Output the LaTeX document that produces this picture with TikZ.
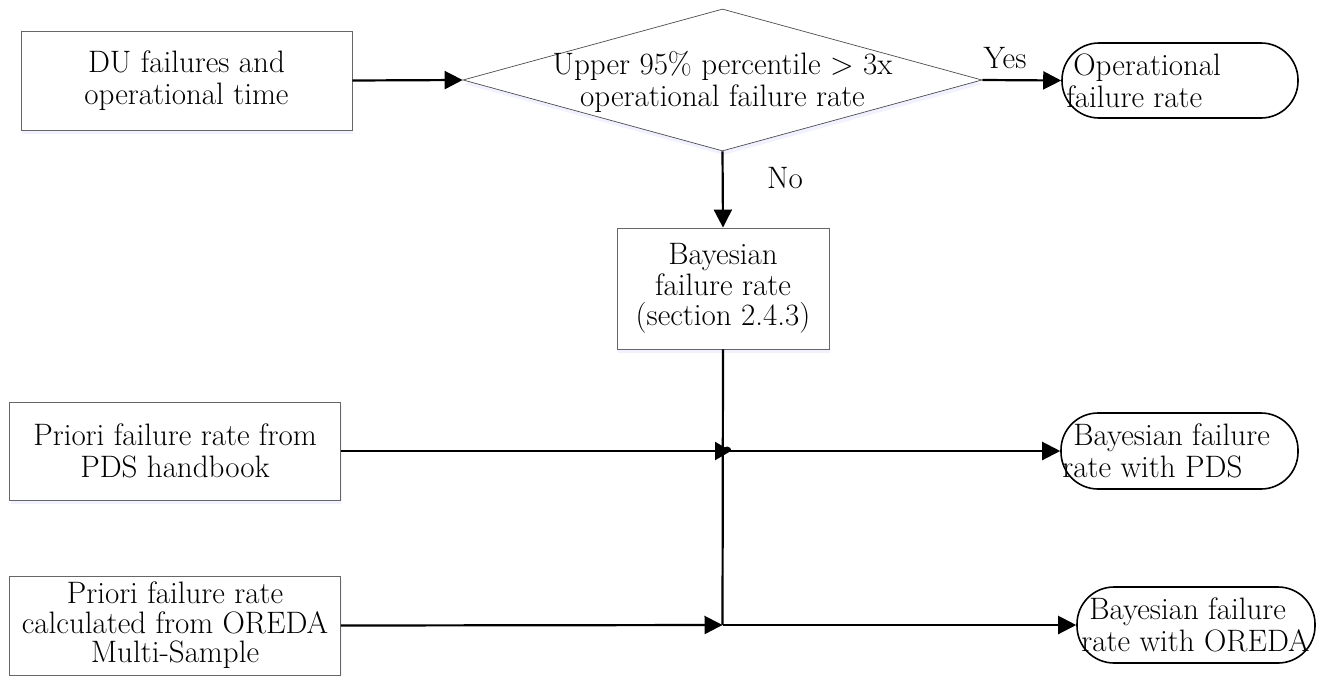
\documentclass[tikz,border=0pt]{standalone}
\usetikzlibrary{arrows.meta,shapes.geometric,shadows}
\begin{document}
\begin{tikzpicture}[x=1pt,y=-1pt,
  txt/.style={font=\fontsize{31}{32}\selectfont, align=center, inner sep=0pt},
  procbox/.style={draw=black!60, line width=0.9pt, fill=white,
    drop shadow={fill=blue!8, opacity=0.7, shadow xshift=1pt, shadow yshift=-4pt},
    font=\fontsize{31}{32}\selectfont, align=center, inner sep=0pt},
  decision/.style={diamond, draw=black!70, line width=0.7pt, fill=white, inner sep=0pt,
    drop shadow={fill=blue!8, opacity=0.7, shadow xshift=1pt, shadow yshift=-4pt}},
  terminal/.style={draw=black, line width=1.6pt, rounded corners=37pt, fill=white, inner sep=0pt},
  conn/.style={line width=2.2pt, draw=black},
  arr/.style={conn, -{Triangle[length=18pt,width=18pt]}},
]
\useasboundingbox (0,0) rectangle (1319,675);

% input boxes
\node[procbox, minimum width=331pt, minimum height=99pt] (du) at (186.5,80.5)
  {DU failures and\\operational time};
\node[procbox, minimum width=331pt, minimum height=98pt] (pds) at (175,451)
  {Priori failure rate from\\PDS handbook};
\node[procbox, minimum width=331pt, minimum height=99pt, font=\fontsize{31}{29.5}\selectfont] (ore) at (175,625.5)
  {Priori failure rate\\calculated from OREDA\\Multi-Sample};

% decision
\node[decision, minimum width=519pt, minimum height=142pt] (dec) at (722.5,80) {};
\node[txt] (dect) at (722.5,82) {Upper 95\% percentile > 3x\\operational failure rate};

% Bayesian box
\node[procbox, minimum width=212pt, minimum height=121pt, font=\fontsize{31}{30.5}\selectfont] (bay) at (723,288.5)
  {Bayesian\\failure rate\\(section 2.4.3)};

% terminals
\node[terminal, minimum width=236pt, minimum height=75pt] (op) at (1180,80.5) {};
\node[txt, align=left, anchor=west] (opt) at ([xshift=5pt]op.west)
  {\hspace{7pt}Operational\\failure rate};
\node[terminal, minimum width=237pt, minimum height=76pt] (pdo) at (1179.5,451) {};
\node[txt, align=left, anchor=west] (pdot) at ([xshift=2pt]pdo.west)
  {\hspace{11pt}Bayesian failure\\rate with PDS};
\node[terminal, minimum width=238pt, minimum height=76pt] (oro) at (1196,625) {};
\node[txt, align=left, anchor=west] (orot) at ([xshift=5pt]oro.west)
  {\hspace{8pt}Bayesian failure\\rate with OREDA};

% junctions
\coordinate (jp) at (722.5,451);
\coordinate (jo) at (722.5,625);
\coordinate (jpa) at (731,451);

% connectors
\draw[arr] (du.east) -- (dec.west);
\draw[arr] (dec.east) -- (op.west);
\node[txt] (yes) at (1005,58) {Yes};
\draw[arr] (dec.south) -- (bay.north);
\node[txt] (no) at (785,178) {No};
\draw[conn] (bay.south) -- (jo);
\draw[arr, -{Triangle[length=16pt,width=18pt]}] (pds.east) -- (jpa);
\fill (jp) arc[start angle=180, end angle=0, radius=4.5pt] -- cycle;
\draw[arr] (jp) -- (pdo.west);
\draw[arr] (ore.east) -- (jo);
\draw[arr] (jo) -- (oro.west);
\end{tikzpicture}
\end{document}
